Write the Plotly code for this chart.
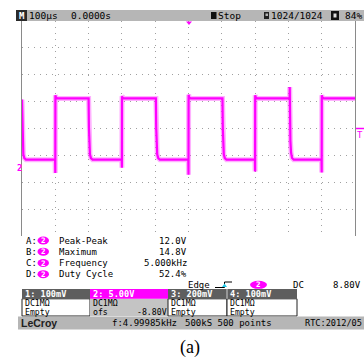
import plotly.graph_objects as go

# ---- captured waveform, channel 2 (time in microseconds, level in volts) ----
wave_t_us = [
    -500, -499, -498, -496, -493, -488,
    -400.5, -400, -399.7, -398, -394,
    -300, -299, -298, -296, -293, -288,
    -200.5, -200, -199.7, -198, -194,
    -98, -97, -96, -94, -91, -86,
    -0.5, 0, 0.3, 2, 6,
    102, 103, 104, 106, 109, 114,
    199.5, 200, 200.3, 202, 206,
    303.7, 304, 304.5, 306, 308, 311, 316,
    399.5, 400, 400.3, 402, 406,
    500,
]
wave_v = [
    14.2, 9.0, 5.5, 4.0, 3.3, 3.0,
    3.0, 0.5, 15.0, 14.6, 14.4,
    14.4, 9.0, 5.5, 4.0, 3.3, 3.0,
    3.0, 1.5, 14.8, 14.5, 14.4,
    14.4, 9.0, 5.5, 4.0, 3.3, 3.0,
    3.0, 0.2, 15.1, 14.6, 14.4,
    14.4, 9.0, 5.5, 4.0, 3.3, 3.0,
    3.0, 0.8, 15.0, 14.6, 14.4,
    14.4, 16.5, 11.0, 6.5, 4.3, 3.3, 3.0,
    3.0, 0.6, 15.0, 14.6, 14.4,
    14.4,
]

# ---- scope settings ----
time_per_div_us = 100
volts_per_div = 5.0
offset_v = -8.80
n_hdiv, n_vdiv = 10, 8

# ---- measurement panel ----
meas_keys = ["A:", "B:", "C:", "D:"]
meas_names = ["Peak-Peak", "Maximum", "Frequency", "Duty Cycle"]
meas_values = ["12.0V", "14.8V", "5.000kHz", "52.4%"]

# ---- channel descriptor table ----
ch_headers = ["1: 100mV", "2: 5.00V", "3: 200mV", "4: 100mV"]
ch_coupling = ["DC1M\u03a9", "DC1M\u03a9", "DC1M\u03a9", "DC1M\u03a9"]
ch_third = ["Empty", "ofs", "Empty", "Empty"]

W, H = 364, 358
MAG = "#ff00ff"
MONO = "DejaVu Sans Mono"


def px(x):
    return x / W


def py(y):
    return 1 - y / H


def text(x, y, s, size=9, color="black", anchor="left", family=MONO, weight=None):
    f = dict(family=family, size=size, color=color)
    if weight:
        f["weight"] = weight
    return dict(x=px(x), y=py(y), xref="paper", yref="paper", text=s,
                showarrow=False, xanchor=anchor, yanchor="middle",
                borderpad=0, font=f)


def rect(x0, y0, x1, y1, fill=None, line=None, width=1, kind="rect", layer="below"):
    return dict(type=kind, xref="paper", yref="paper",
                x0=px(x0), x1=px(x1), y0=py(y1), y1=py(y0),
                fillcolor=fill if fill else "rgba(0,0,0,0)",
                line=dict(color=line if line else "rgba(0,0,0,0)", width=width if line else 0),
                layer=layer)


def seg(x0, y0, x1, y1, color="black", width=1, layer="above"):
    return dict(type="line", xref="paper", yref="paper",
                x0=px(x0), x1=px(x1), y0=py(y0), y1=py(y1),
                line=dict(color=color, width=width), layer=layer)


center_v = -offset_v
y_lo = center_v - volts_per_div * n_vdiv / 2
y_hi = center_v + volts_per_div * n_vdiv / 2
x_lo = -time_per_div_us * n_hdiv / 2
x_hi = time_per_div_us * n_hdiv / 2

fig = go.Figure()
# soft halo for the noisy trace, then the core trace
fig.add_trace(go.Scatter(x=wave_t_us, y=wave_v, mode="lines",
                         line=dict(color="rgba(255,60,255,0.40)", width=5),
                         hoverinfo="skip", showlegend=False))
fig.add_trace(go.Scatter(x=wave_t_us, y=wave_v, mode="lines",
                         line=dict(color=MAG, width=2.2),
                         hoverinfo="skip", showlegend=False))

shapes = []
ann = []

# top status bar
shapes.append(rect(16, 10, 364, 21, fill="#b6b6b6", layer="above"))
shapes.append(rect(16, 10, 27, 21, fill="#2a2a2a", layer="above"))
ann.append(text(21.5, 15.5, "M", size=9, color="white", anchor="center", weight="bold"))
ann.append(text(28, 15.5, "100\u00b5s", size=9.5))
ann.append(text(70, 15.5, "0.0000s", size=9.5))
shapes.append(rect(211, 12, 216.5, 19, fill="#111111", layer="above"))
ann.append(text(217, 15.5, "Stop", size=9.5))
shapes.append(rect(264, 12, 269, 19, fill="#222222", layer="above"))
shapes.append(rect(265.5, 13.5, 268, 16, fill="#b6b6b6", layer="above"))
ann.append(text(270, 15.5, "1024/1024", size=9.5))
shapes.append(rect(331, 11, 339, 20, fill="#111111", layer="above"))
shapes.append(rect(333.5, 13.5, 336.5, 17.5, fill="#dddddd", layer="above"))
ann.append(text(344, 15.5, "84%", size=9.5))

# trigger position and level markers, channel ground marker
shapes.append(dict(type="path", xref="paper", yref="paper",
                   path=f"M {px(186)} {py(21.5)} L {px(192)} {py(21.5)} L {px(189)} {py(25)} Z",
                   fillcolor=MAG, line=dict(width=0), layer="above"))
shapes.append(seg(356, 128.5, 364, 128.5, color=MAG, width=1.5))
ann.append(text(360, 134.5, "T", size=9, color=MAG, anchor="center"))
ann.append(text(19.5, 168, "2", size=9, color=MAG, anchor="center", weight="bold"))

# measurement readouts
rows_y = [240.5, 251.7, 263.0, 274.2]
for yy, k, name, val in zip(rows_y, meas_keys, meas_names, meas_values):
    ann.append(text(25, yy, k, size=9))
    shapes.append(rect(37.5, yy - 4, 49, yy + 4, fill=MAG, kind="circle"))
    ann.append(text(43.3, yy, "2", size=7.5, color="white", anchor="center", weight="bold"))
    ann.append(text(58, yy, name, size=9))
    ann.append(text(188, yy, val, size=9, anchor="right"))

# trigger setup line
ey = 284.8
ann.append(text(187, ey, "Edge", size=9))
shapes.append(seg(215, 287.5, 224.5, 287.5))
shapes.append(seg(224.5, 287.5, 224.5, 282))
shapes.append(seg(224.5, 282, 232, 282))
shapes.append(dict(type="path", xref="paper", yref="paper",
                   path=f"M {px(222)} {py(287)} L {px(227)} {py(287)} L {px(224.5)} {py(283.5)} Z",
                   fillcolor="#22c8e8", line=dict(width=0), layer="above"))
shapes.append(rect(250, ey - 4, 267, ey + 4, fill=MAG, kind="circle"))
ann.append(text(258.5, ey, "2", size=7.5, color="white", anchor="center", weight="bold"))
ann.append(text(292, ey, "DC", size=9))
ann.append(text(362, ey, "8.80V", size=9, anchor="right"))

# channel descriptor boxes (drawn beneath the text)
cols = [22, 90, 168, 227, 297]
hdr_y0, hdr_y1 = 289.0, 298.8
r2_y1, r3_y1 = 307.4, 316
for i in range(4):
    x0, x1 = cols[i], cols[i + 1]
    selected = (i == 1)
    body_fill = "#c4c4c4" if selected else "white"
    shapes.append(rect(x0, hdr_y1, x1, r3_y1, fill=body_fill,
                       line=None if selected else "#202020", width=1))
    shapes.append(rect(x0, hdr_y0, x1, hdr_y1, fill=MAG if selected else "#5e5e5e"))
    ann.append(text(x0 + 2, (hdr_y0 + hdr_y1) / 2, ch_headers[i], size=8.6,
                    color="white", weight="bold"))
    ann.append(text(x0 + 2, (hdr_y1 + r2_y1) / 2, ch_coupling[i], size=8.2))
    ann.append(text(x0 + 2, (r2_y1 + r3_y1) / 2, ch_third[i], size=8.2))
ann.append(text(cols[2], (r2_y1 + r3_y1) / 2, f"{offset_v:.2f}V", size=8.2, anchor="right"))
shapes.append(seg(cols[3], hdr_y0, cols[3], hdr_y1, color="#d0d0d0", width=1, layer="below"))

# footer status bar
shapes.append(rect(18, 316.5, 364, 329.5, fill="#b6b6b6"))
ann.append(text(20, 323, "LeCroy", size=10.5, family="Liberation Sans", weight="bold", color="#202020"))
ann.append(text(111, 323, "f:4.99985kHz", size=9))
ann.append(text(184, 323, "500kS 500 points", size=9))
ann.append(text(304, 323, "RTC:2012/05", size=8.6))

# caption
ann.append(text(189.5, 347, "(a)", size=18, family="Liberation Serif", anchor="center"))

fig.update_layout(
    width=W, height=H,
    margin=dict(l=0, r=0, t=0, b=0),
    paper_bgcolor="white", plot_bgcolor="white",
    showlegend=False,
    shapes=shapes, annotations=ann,
    xaxis=dict(domain=[px(22), px(355)], range=[x_lo, x_hi],
               tick0=x_lo, dtick=time_per_div_us,
               showgrid=True, gridcolor="#a0a0a0", gridwidth=1, griddash="1px,5px",
               showticklabels=False, ticks="", zeroline=False, showline=False,
               fixedrange=True),
    yaxis=dict(domain=[py(236), py(21)], range=[y_lo, y_hi],
               tick0=y_lo, dtick=volts_per_div,
               showgrid=True, gridcolor="#a0a0a0", gridwidth=1, griddash="1px,5px",
               showticklabels=False, ticks="", zeroline=False,
               showline=True, mirror=True, linecolor="#8a8a8a", linewidth=1,
               fixedrange=True),
)

fig.write_html("out.html", config={"displayModeBar": False})
